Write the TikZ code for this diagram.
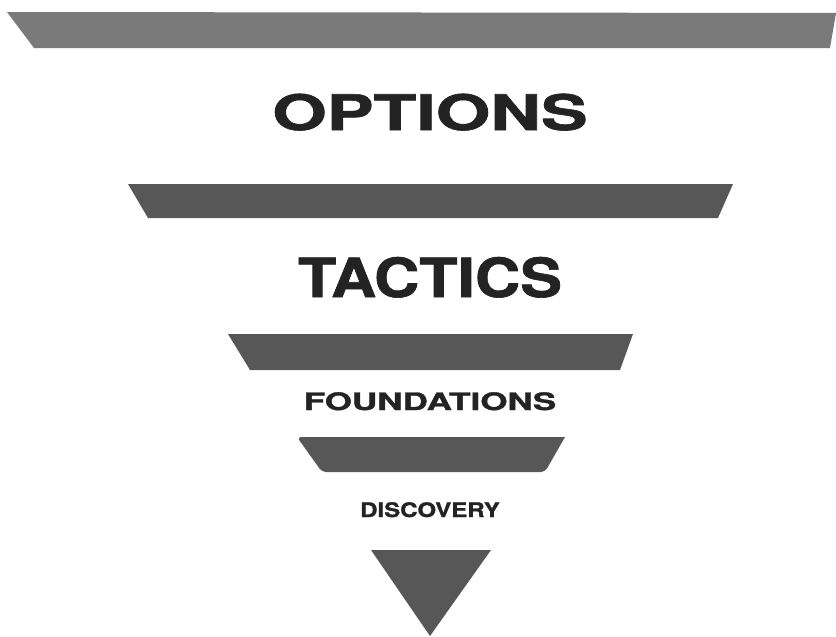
\documentclass[tikz,border=0pt]{standalone}
\usepackage{fontspec}
\setmainfont{TeX Gyre Heros}
\newfontfamily\heavyfont{TeX Gyre Heros}[FakeBold=1.2]
\definecolor{bandgray}{HTML}{575757}
\definecolor{topgray}{HTML}{7A7A7A}
\definecolor{textgray}{HTML}{232323}

\begin{document}
\begin{tikzpicture}[x=1pt,y=-1pt]
    \tikzset{levellabel/.style={text=textgray, inner sep=0pt, anchor=base}}
    \def\midX{430}

    \useasboundingbox (0,0) rectangle (836,637);

    %top band
    \fill[topgray] (7,12) -- (836,13) -- (830,48) -- (34,48) -- cycle;

    %funnel bands
    \foreach \ytop/\ybot/\xa/\xb/\xc/\xd in {
        184/218/128/733/718/148, 334/370/228/633/620/250
    } {
        \fill[bandgray] (\xa,\ytop) -- (\xb,\ytop) -- (\xc,\ybot) -- (\xd,\ybot) -- cycle;
    }
    \fill[bandgray, rounded corners=4pt]
        (297,437) [sharp corners] -- (565,437) [rounded corners=4pt] -- (545,472) -- (322,472) -- cycle;

    %tip
    \fill[bandgray] (371,550) -- (491,550) -- (430,636) -- cycle;

    %labels
    \foreach \name/\ybase/\size/\sx/\txt in {
        options/130/49/1.43/OPTIONS, tactics/297/54/1.16/TACTICS,
        foundations/410/24/1.46/FOUNDATIONS, discovery/517/20/1.20/DISCOVERY
    } {
        \node[levellabel, xscale=\sx, font=\fontsize{\size}{\size}\selectfont\heavyfont\bfseries]
            (\name) at (\midX,\ybase) {\txt};
    }
\end{tikzpicture}
\end{document}
